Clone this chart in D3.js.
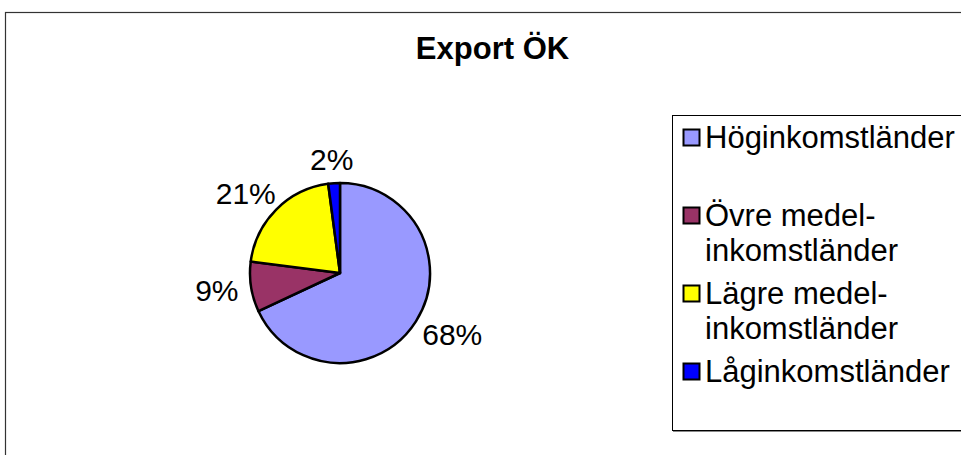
<!DOCTYPE html>
<html>
<head>
<meta charset="utf-8">
<script src="https://cdn.jsdelivr.net/npm/d3@7"></script>
<style>
  html, body { margin: 0; padding: 0; background: #fff; }
  svg { display: block; font-family: "Liberation Sans", Arial, sans-serif; }
</style>
</head>
<body>
<svg id="chart" width="961" height="455"></svg>
<script>
// ---- data ----
const title = "Export ÖK";
const categories = ["Höginkomstländer", "Övre medelinkomstländer", "Lägre medelinkomstländer", "Låginkomstländer"];
const legendLines = [["Höginkomstländer"], ["Övre medel-", "inkomstländer"], ["Lägre medel-", "inkomstländer"], ["Låginkomstländer"]];
const shares = [68.1, 9.0, 20.9, 2.1];
const palette = ["#9999FF", "#993366", "#FFFF00", "#0000FF"];

// ---- layout ----
const cx = 340, cy = 273, R = 90;
const svg = d3.select("#chart");

// outer chart frame (extends past the visible area)
svg.append("rect")
  .attr("x", 5.5).attr("y", 12.5)
  .attr("width", 1100).attr("height", 600)
  .attr("fill", "#fff").attr("stroke", "#333").attr("stroke-width", 1.2);

// title
svg.append("text")
  .attr("x", 492.5).attr("y", 59)
  .attr("text-anchor", "middle")
  .attr("font-size", 31).attr("font-weight", "bold")
  .attr("fill", "#000")
  .text(title);

// pie
const data = categories.map((c, i) => ({ name: c, value: shares[i], color: palette[i] }));
const total = d3.sum(shares);
const pie = d3.pie().sort(null).value(d => d.value);
const arc = d3.arc().innerRadius(0).outerRadius(R);
const arcs = pie(data);

const g = svg.append("g").attr("transform", `translate(${cx},${cy})`);
g.selectAll("path.slice")
  .data(arcs)
  .enter().append("path")
  .attr("class", "slice")
  .attr("d", arc)
  .attr("fill", d => d.data.color)
  .attr("stroke", "#000")
  .attr("stroke-width", 2.5)
  .attr("stroke-linejoin", "round");

// labels: box placed just outside the rim, anchored continuously by direction
const fmt = d3.format(".0%");
const labelSize = 30;
const gap = 13;
const labels = g.selectAll("text.lbl")
  .data(arcs)
  .enter().append("text")
  .attr("class", "lbl")
  .attr("font-size", labelSize)
  .attr("fill", "#000")
  .text(d => fmt(d.data.value / total));

labels.each(function(d) {
  const a = (d.startAngle + d.endAngle) / 2;
  const dx = Math.sin(a), dy = -Math.cos(a);
  const px = dx * (R + gap), py = dy * (R + gap);
  const w = this.getComputedTextLength();
  const h = labelSize * 0.72;
  const left = px + (dx - 1) / 2 * w;
  const top = py + (dy - 1) / 2 * h;
  d3.select(this).attr("x", left).attr("y", top + h);
});

// legend box
const lg = svg.append("g");
lg.append("rect")
  .attr("x", 672.5).attr("y", 115.5)
  .attr("width", 400).attr("height", 315)
  .attr("fill", "#fff").attr("stroke", "#000").attr("stroke-width", 1);
lg.append("line")
  .attr("x1", 673).attr("x2", 961).attr("y1", 431.5).attr("y2", 431.5)
  .attr("stroke", "#888").attr("stroke-width", 1);

const rowY = d3.scaleLinear().domain([0, categories.length - 1]).range([148, 382]);
const lineH = 35;
const items = lg.selectAll("g.item")
  .data(data)
  .enter().append("g")
  .attr("class", "item")
  .attr("transform", (d, i) => `translate(0,${rowY(i)})`);

items.append("rect")
  .attr("x", 683.5).attr("y", -18.5)
  .attr("width", 16).attr("height", 16)
  .attr("fill", d => d.color)
  .attr("stroke", "#000").attr("stroke-width", 2);

items.each(function(d, i) {
  const t = d3.select(this).append("text")
    .attr("font-size", 31).attr("fill", "#000");
  legendLines[i].forEach((ln, j) => {
    t.append("tspan").attr("x", 705).attr("y", j * lineH).text(ln);
  });
});
</script>
</body>
</html>
